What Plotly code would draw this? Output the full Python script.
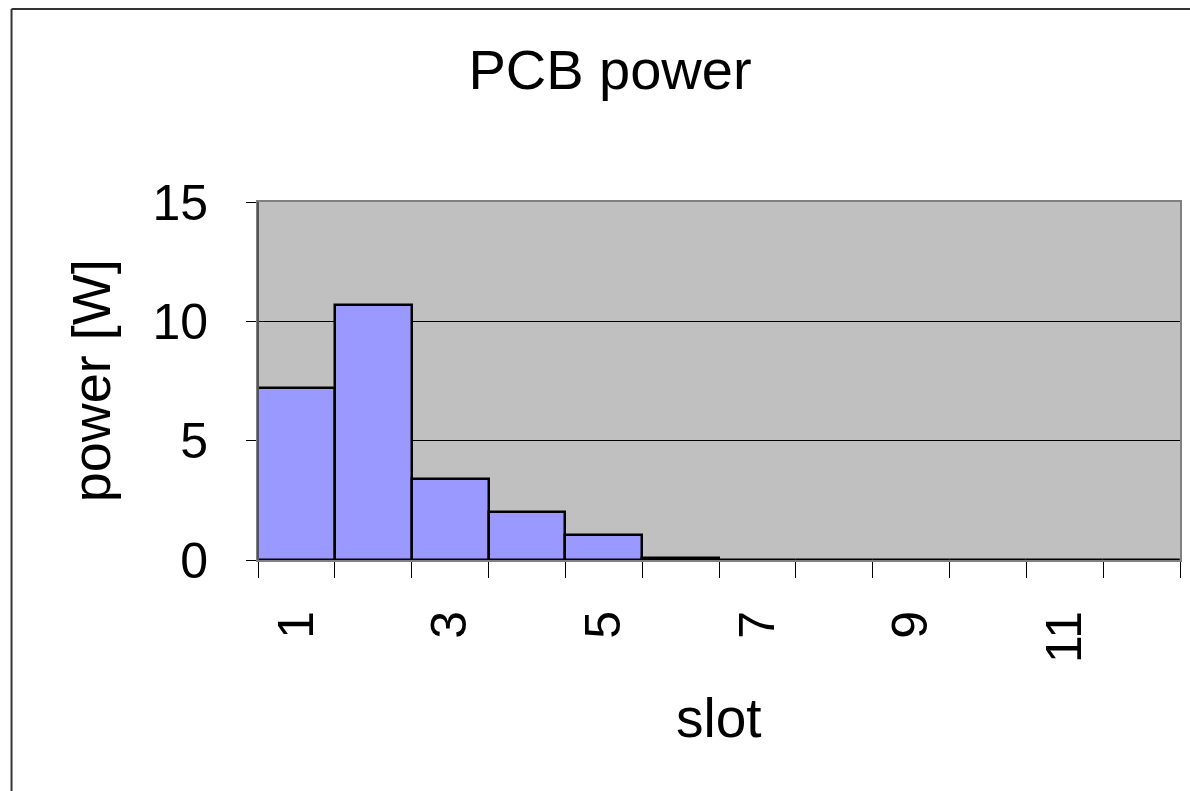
import plotly.graph_objects as go

slots = list(range(1, 13))
power = [7.2, 10.7, 3.4, 2.0, 1.05, 0.1, 0, 0, 0, 0, 0, 0]
x_label_vals = [1, 3, 5, 7, 9, 11]
x_label_text = ["1", "3", "5", "7", "9", "11"]
y_ticks = [0, 5, 10, 15]

FONT = "Arial, Liberation Sans, sans-serif"
W, H = 1190, 791
L, R, T, B = 258, 8, 202, 231
PW, PH = W - L - R, H - T - B


def px_x(v):
    return (v - L) / PW


def px_y(v):
    return 1 - (v - T) / PH


fig = go.Figure()
fig.add_trace(go.Bar(
    x=slots, y=power,
    marker=dict(color="#9999FF", line=dict(color="#000000", width=2.5)),
    showlegend=False,
))

# outer frame (left + top only)
fig.add_shape(type="line", xref="paper", yref="paper",
              x0=px_x(11), y0=px_y(9), x1=px_x(1195), y1=px_y(9),
              line=dict(color="#333333", width=2))
fig.add_shape(type="line", xref="paper", yref="paper",
              x0=px_x(11), y0=px_y(9), x1=px_x(11), y1=px_y(800),
              line=dict(color="#333333", width=2))

# darker left axis line, as in the original
fig.add_shape(type="line", xref="paper", yref="paper",
              x0=0, y0=0, x1=0, y1=1,
              line=dict(color="#555555", width=2))

fig.add_annotation(text="slot", xref="paper", yref="paper",
                   x=0.5, y=px_y(718), xanchor="center", yanchor="middle",
                   showarrow=False, font=dict(size=55, color="#000000"))
fig.add_annotation(text="power [W]", xref="paper", yref="paper",
                   x=px_x(91), y=0.5, xanchor="center", yanchor="middle",
                   textangle=-90, showarrow=False,
                   font=dict(size=54, color="#000000"))

fig.update_layout(
    width=W, height=H,
    paper_bgcolor="#FFFFFF",
    plot_bgcolor="#C0C0C0",
    font=dict(family=FONT, color="#000000", size=50),
    margin=dict(l=L, r=R, t=T, b=B),
    bargap=0,
    title=dict(text="PCB power", x=610 / W, xanchor="center",
               y=1 - 69 / H, yanchor="middle",
               font=dict(size=56, color="#000000")),
)

fig.update_xaxes(
    range=[0.5, 12.5],
    tickmode="array", tickvals=x_label_vals, ticktext=x_label_text,
    tickangle=-90, ticks="", ticklabelstandoff=29,
    tickfont=dict(size=50),
    minor=dict(tickmode="array", tickvals=[s - 0.5 for s in slots] + [12.5],
               ticks="outside", ticklen=16, tickcolor="#000000", tickwidth=1,
               showgrid=False),
    showgrid=False, zeroline=False,
    showline=True, linecolor="#808080", linewidth=2, mirror=True,
)
fig.update_yaxes(
    range=[0, 15],
    tickmode="array", tickvals=y_ticks,
    ticks="outside", ticklen=10, tickcolor="#000000", tickwidth=1,
    ticklabelstandoff=28,
    tickfont=dict(size=50),
    showgrid=True, gridcolor="#000000", gridwidth=1,
    zeroline=False,
    showline=True, linecolor="#808080", linewidth=2, mirror=True,
)

fig.write_html("out.html", config={"displayModeBar": False},
               post_script="document.body.style.margin='0';")
